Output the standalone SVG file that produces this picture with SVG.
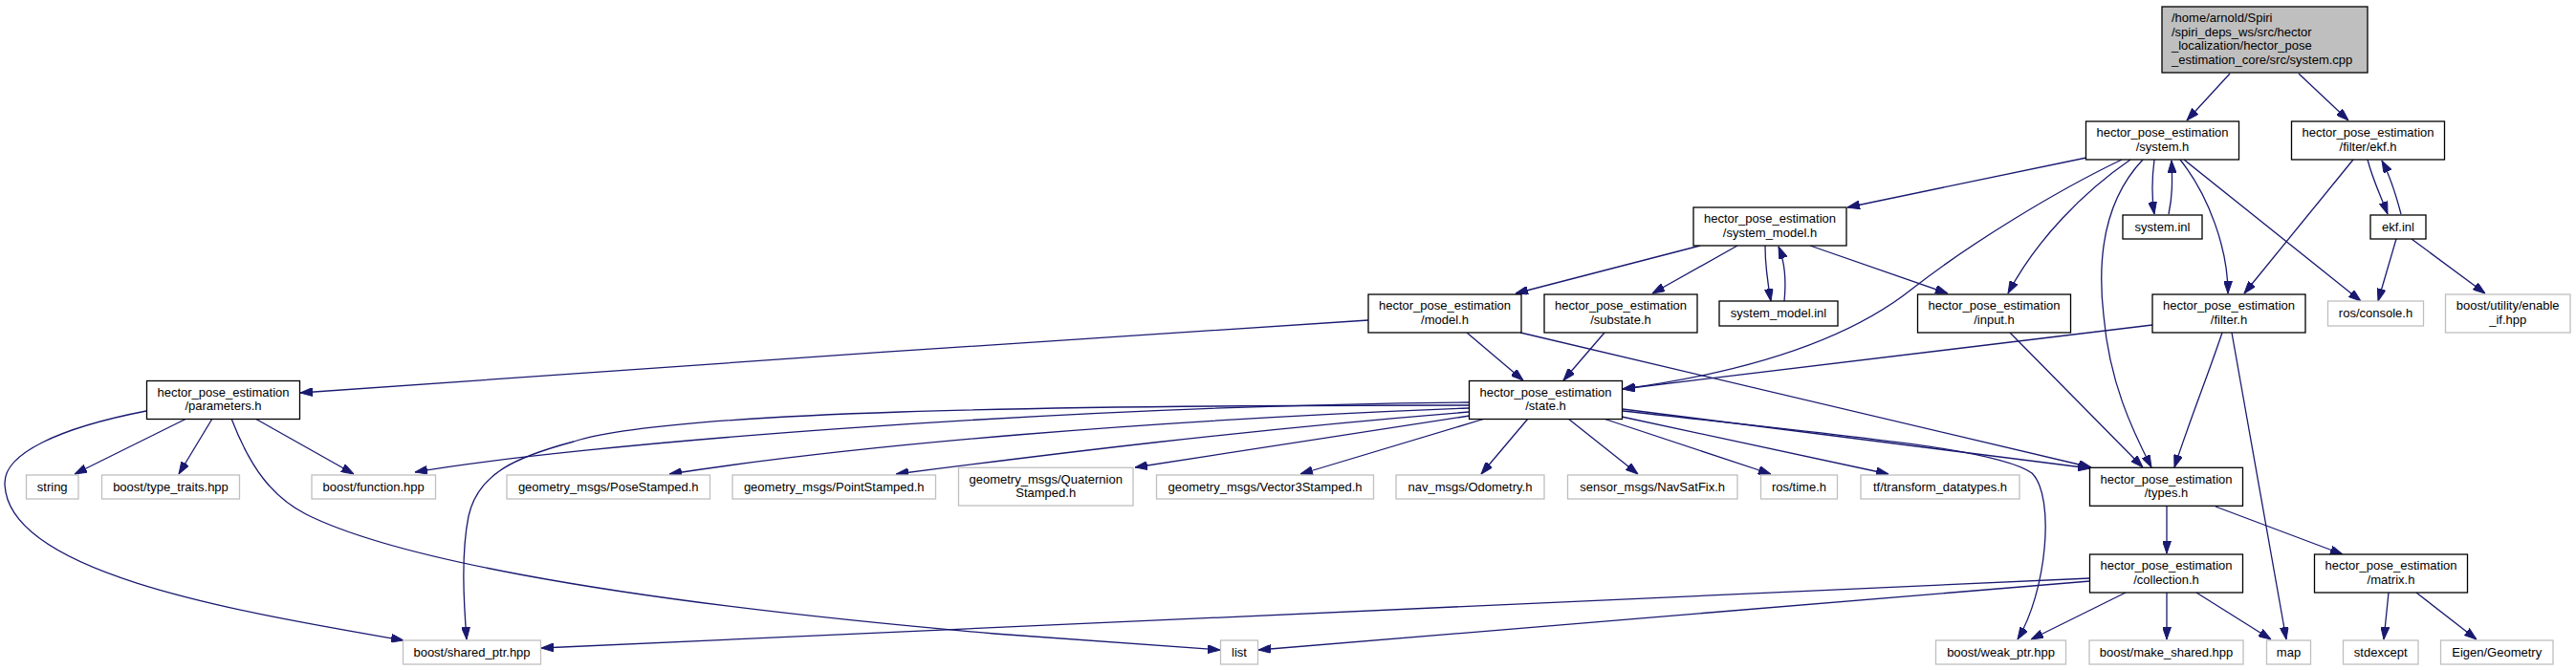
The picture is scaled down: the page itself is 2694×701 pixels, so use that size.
<svg xmlns="http://www.w3.org/2000/svg" width="2694" height="701" viewBox="0 0 2694 701">
<style>
text{font-family:"Liberation Sans",Arial,sans-serif;font-size:13px;fill:#000}
.c{text-anchor:middle}
.n rect{fill:#fff;stroke:#000;stroke-width:1.3}
.g rect{fill:#fff;stroke:#bfbfbf;stroke-width:1.3}
.r rect{fill:#bfbfbf;stroke:#000;stroke-width:1.3}
#edges path{fill:none;stroke:#191970;stroke-width:1.3;marker-end:url(#ah)}
</style>
<defs>
<marker id="ah" viewBox="0 0 13 9" refX="13" refY="4.5" markerWidth="13" markerHeight="9" orient="auto" markerUnits="userSpaceOnUse">
<path d="M0,0 L13,4.5 L0,9 z" fill="#191970" stroke="#191970" stroke-width="1"/>
</marker>
</defs>
<rect width="2694" height="701" fill="#fff"/>
<g id="edges">
<path d="M2332,77 L2287,126"/>
<path d="M2404,77 L2456,126"/>
<path d="M2182,165 L1932,217"/>
<path d="M2253,167 C2250,190 2250,205 2253,224"/>
<path d="M2268,224 C2272,205 2272,190 2271,168"/>
<path d="M2219,167 C2150,200 2060,255 2000,302 C1950,342 1860,385 1697,407"/>
<path d="M2228,167 C2180,200 2130,250 2100,307"/>
<path d="M2280,167 C2310,205 2330,260 2330,307"/>
<path d="M2241,167 C2205,205 2192,260 2200,330 C2206,400 2230,450 2250,489"/>
<path d="M2284,167 L2469,315"/>
<path d="M2461,167 L2347,307"/>
<path d="M2476,167 C2482,190 2490,205 2497,224"/>
<path d="M2511,224 C2506,205 2500,185 2491,168"/>
<path d="M2506,250 L2487,315"/>
<path d="M2522,250 L2599,307"/>
<path d="M1778,257 L1585,307"/>
<path d="M1817,257 L1728,307"/>
<path d="M1846,257 C1846,280 1849,298 1852,315"/>
<path d="M1866,315 C1868,295 1867,275 1860,258"/>
<path d="M1893,257 L2037,307"/>
<path d="M1431,335 C1100,356 600,390 314,411"/>
<path d="M1534,348 L1593,398"/>
<path d="M1590,348 L2187,489"/>
<path d="M1678,348 L1635,398"/>
<path d="M2102,348 L2241,489"/>
<path d="M2251,340 L1697,407"/>
<path d="M2324,348 C2310,390 2290,440 2274,489"/>
<path d="M2334,348 L2391,669"/>
<path d="M195,438 L78,496"/>
<path d="M222,438 L187,496"/>
<path d="M267,438 L370,496"/>
<path d="M153,430 C60,448 5,475 5,505 C5,600 250,640 422,670"/>
<path d="M242,438 C262,490 285,520 320,538 C400,578 600,625 1040,663 C1120,669 1200,675 1276,680"/>
<path d="M1536,421 C1100,425 600,465 434,494"/>
<path d="M1536,424 C1100,424 700,430 600,462 C540,478 500,495 490,540 C482,580 485,630 488,669"/>
<path d="M1536,427 C1200,440 900,465 700,496"/>
<path d="M1536,431 C1300,450 1100,475 937,496"/>
<path d="M1537,435 L1187,489"/>
<path d="M1553,438 L1360,496"/>
<path d="M1598,438 L1549,496"/>
<path d="M1640,438 L1713,496"/>
<path d="M1677,438 L1852,496"/>
<path d="M1696,436 L1975,496"/>
<path d="M1697,428 L2186,490"/>
<path d="M1697,430 C1950,458 2090,470 2125,495 C2150,520 2140,620 2110,669"/>
<path d="M2266,529 L2266,579"/>
<path d="M2317,530 L2450,580"/>
<path d="M2266,620 L2266,669"/>
<path d="M2297,620 L2375,669"/>
<path d="M2223,620 L2124,669"/>
<path d="M2186,605 L566,678"/>
<path d="M2186,608 L1316,680"/>
<path d="M2498,620 L2493,669"/>
<path d="M2527,620 L2590,669"/>
</g>
<g id="root" class="r"><rect x="2261" y="7" width="215" height="69"/>
<text x="2271" y="23">/home/arnold/Spiri</text><text x="2271" y="37.7">/spiri_deps_ws/src/hector</text><text x="2271" y="52.3">_localization/hector_pose</text><text x="2271" y="67">_estimation_core/src/system.cpp</text></g>
<g id="system_h" class="n"><rect x="2181.5" y="127" width="160" height="40"/><text class="c" x="2261.5" y="143">hector_pose_estimation</text><text class="c" x="2261.5" y="157.5">/system.h</text></g>
<g id="ekf_h" class="n"><rect x="2396.5" y="127" width="160" height="40"/><text class="c" x="2476.5" y="143">hector_pose_estimation</text><text class="c" x="2476.5" y="157.5">/filter/ekf.h</text></g>
<g id="system_model_h" class="n"><rect x="1771" y="217" width="160" height="40"/><text class="c" x="1851" y="233">hector_pose_estimation</text><text class="c" x="1851" y="247.5">/system_model.h</text></g>
<g id="system_inl" class="n"><rect x="2220" y="225" width="83" height="25"/><text class="c" x="2261.5" y="242">system.inl</text></g>
<g id="ekf_inl" class="n"><rect x="2479" y="225" width="58" height="25"/><text class="c" x="2508" y="242">ekf.inl</text></g>
<g id="model_h" class="n"><rect x="1431" y="308" width="160" height="40"/><text class="c" x="1511" y="324">hector_pose_estimation</text><text class="c" x="1511" y="338.5">/model.h</text></g>
<g id="substate_h" class="n"><rect x="1615" y="308" width="160" height="40"/><text class="c" x="1695" y="324">hector_pose_estimation</text><text class="c" x="1695" y="338.5">/substate.h</text></g>
<g id="system_model_inl" class="n"><rect x="1798" y="315" width="124" height="26"/><text class="c" x="1860" y="332.3">system_model.inl</text></g>
<g id="input_h" class="n"><rect x="2005.5" y="308" width="160" height="40"/><text class="c" x="2085.5" y="324">hector_pose_estimation</text><text class="c" x="2085.5" y="338.5">/input.h</text></g>
<g id="filter_h" class="n"><rect x="2251" y="308" width="160" height="40"/><text class="c" x="2331" y="324">hector_pose_estimation</text><text class="c" x="2331" y="338.5">/filter.h</text></g>
<g id="ros_console" class="g"><rect x="2434.5" y="315" width="100" height="26"/><text class="c" x="2484.5" y="332.3">ros/console.h</text></g>
<g id="enable_if" class="g"><rect x="2557.5" y="308" width="130.5" height="40"/><text class="c" x="2622.7" y="324">boost/utility/enable</text><text class="c" x="2622.7" y="338.5">_if.hpp</text></g>
<g id="parameters_h" class="n"><rect x="153.5" y="398.5" width="160" height="40"/><text class="c" x="233.5" y="414.5">hector_pose_estimation</text><text class="c" x="233.5" y="429">/parameters.h</text></g>
<g id="state_h" class="n"><rect x="1536.5" y="398.5" width="160" height="40"/><text class="c" x="1616.5" y="414.5">hector_pose_estimation</text><text class="c" x="1616.5" y="429">/state.h</text></g>
<g id="string" class="g"><rect x="27.5" y="497" width="54.5" height="25"/><text class="c" x="54.7" y="514">string</text></g>
<g id="type_traits" class="g"><rect x="106.5" y="497" width="144" height="25"/><text class="c" x="178.5" y="514">boost/type_traits.hpp</text></g>
<g id="function_hpp" class="g"><rect x="326" y="497" width="129.5" height="25"/><text class="c" x="390.7" y="514">boost/function.hpp</text></g>
<g id="pose_stamped" class="g"><rect x="530" y="497" width="212.5" height="25"/><text class="c" x="636.2" y="514">geometry_msgs/PoseStamped.h</text></g>
<g id="point_stamped" class="g"><rect x="766" y="497" width="212.5" height="25"/><text class="c" x="872.2" y="514">geometry_msgs/PointStamped.h</text></g>
<g id="quaternion_stamped" class="g"><rect x="1002.5" y="489.3" width="182.5" height="39.7"/><text class="c" x="1093.7" y="505.5">geometry_msgs/Quaternion</text><text class="c" x="1093.7" y="520">Stamped.h</text></g>
<g id="vector3_stamped" class="g"><rect x="1209.5" y="497" width="227" height="25"/><text class="c" x="1323" y="514">geometry_msgs/Vector3Stamped.h</text></g>
<g id="odometry" class="g"><rect x="1460" y="497" width="155" height="25"/><text class="c" x="1537.5" y="514">nav_msgs/Odometry.h</text></g>
<g id="navsatfix" class="g"><rect x="1639.5" y="497" width="177.5" height="25"/><text class="c" x="1728.2" y="514">sensor_msgs/NavSatFix.h</text></g>
<g id="ros_time" class="g"><rect x="1841.5" y="497" width="80" height="25"/><text class="c" x="1881.5" y="514">ros/time.h</text></g>
<g id="tf_datatypes" class="g"><rect x="1946" y="497" width="166" height="25"/><text class="c" x="2029" y="514">tf/transform_datatypes.h</text></g>
<g id="types_h" class="n"><rect x="2185.5" y="489.3" width="160" height="40"/><text class="c" x="2265.5" y="505.5">hector_pose_estimation</text><text class="c" x="2265.5" y="520">/types.h</text></g>
<g id="collection_h" class="n"><rect x="2185.5" y="580" width="160" height="40"/><text class="c" x="2265.5" y="596">hector_pose_estimation</text><text class="c" x="2265.5" y="610.5">/collection.h</text></g>
<g id="matrix_h" class="n"><rect x="2420.5" y="580" width="160" height="40"/><text class="c" x="2500.5" y="596">hector_pose_estimation</text><text class="c" x="2500.5" y="610.5">/matrix.h</text></g>
<g id="shared_ptr" class="g"><rect x="421.5" y="670" width="144" height="25"/><text class="c" x="493.5" y="687">boost/shared_ptr.hpp</text></g>
<g id="list" class="g"><rect x="1276.5" y="670" width="39" height="25"/><text class="c" x="1296" y="687">list</text></g>
<g id="weak_ptr" class="g"><rect x="2024.5" y="670" width="136" height="25"/><text class="c" x="2092.5" y="687">boost/weak_ptr.hpp</text></g>
<g id="make_shared" class="g"><rect x="2185" y="670" width="161" height="25"/><text class="c" x="2265.5" y="687">boost/make_shared.hpp</text></g>
<g id="map" class="g"><rect x="2370.5" y="670" width="46" height="25"/><text class="c" x="2393.5" y="687">map</text></g>
<g id="stdexcept" class="g"><rect x="2450.5" y="670" width="78.5" height="25"/><text class="c" x="2489.7" y="687">stdexcept</text></g>
<g id="eigen_geometry" class="g"><rect x="2552.5" y="670" width="117.5" height="25"/><text class="c" x="2611.2" y="687">Eigen/Geometry</text></g>
</svg>
